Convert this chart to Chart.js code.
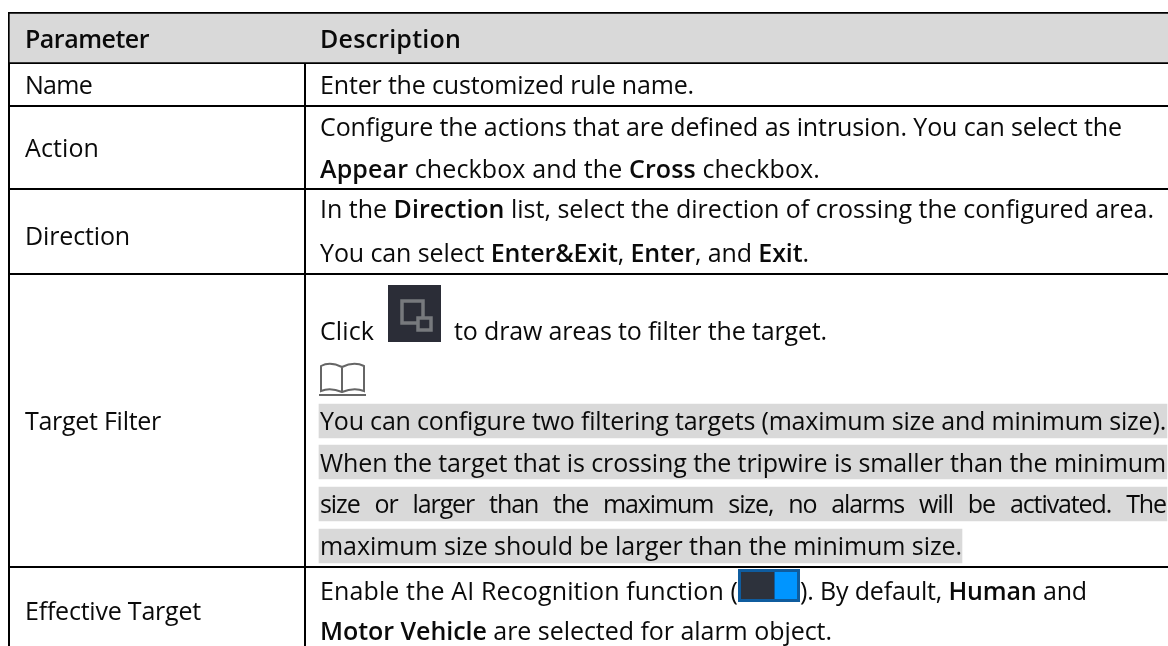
<!DOCTYPE html>
<html lang="en">
<head>
<meta charset="UTF-8">
<title>Parameter table</title>
<script src="https://cdn.jsdelivr.net/npm/chart.js"></script>
<style>
    html, body { margin: 0; padding: 0; background: #fff; }
    canvas { display: block; }
</style>
</head>
<body>
<canvas id="tableChart" width="1168" height="646"></canvas>
<script>
// table rules, in page px
const columnLines = [9, 305];
const rowLines = [13, 63, 106, 189, 274, 567];

// grey bands
const headerBandCenter = [38];
const headerBandStart = [10];
const headerBandEnd = [1168];
const noteBandCenter = [421, 462, 504, 546];
const noteBandStart = [319, 319, 319, 319];
const noteBandEnd = [1167, 1167, 1167, 962];

// left column: text, baseline, right end
const parameterLabels = ["Name", "Action", "Direction", "Target Filter", "Effective Target"];
const parameterBaselines = [94, 157, 245, 430, 620];
const parameterEnds = [92, 99, 130, 161, 201];

// right column lines, ** marks bold
const descriptionLines = [
    "Enter the customized rule name.",
    "Configure the actions that are defined as intrusion. You can select the",
    "**Appear** checkbox and the **Cross** checkbox.",
    "In the **Direction** list, select the direction of crossing the configured area.",
    "You can select **Enter&Exit**, **Enter**, and **Exit**.",
    "You can configure two filtering targets (maximum size and minimum size).",
    "When the target that is crossing the tripwire is smaller than the minimum",
    "size or larger than the maximum size, no alarms will be activated. The",
    "maximum size should be larger than the minimum size.",
    "**Motor Vehicle** are selected for alarm object."
];
const descriptionBaselines = [94, 136, 178, 218, 262, 430, 472, 513, 555, 640];
const descriptionEnds = [694, 1122, 820, 1154, 809, 1166, 1166, 1166, 962, 832];
const justifiedLines = [false, false, false, false, false, false, false, true, false, false];

const FONT = '"Open Sans", sans-serif';
const FONT_SIZE = 25;

function parseRuns(line) {
    return line.split('**').map((text, i) => ({ text, bold: i % 2 === 1 })).filter(r => r.text);
}

function setFont(ctx, bold) {
    ctx.font = (bold ? '600 ' : '400 ') + FONT_SIZE + 'px ' + FONT;
}

function runsWidth(ctx, runs) {
    let w = 0;
    runs.forEach(r => { setFont(ctx, r.bold); w += ctx.measureText(r.text).width; });
    return w;
}

// draw one line squeezed to end at endX
function drawLine(ctx, line, x, y, endX, justified) {
    const runs = parseRuns(line);
    ctx.letterSpacing = '0px';
    ctx.wordSpacing = '0px';
    const chars = runs.reduce((n, r) => n + r.text.length, 0);
    const natural = runsWidth(ctx, runs);
    if (justified) {
        ctx.letterSpacing = '-1.1px';
        const spaces = (line.match(/ /g) || []).length;
        const base = natural - 1.1 * chars;
        ctx.wordSpacing = ((endX - x - base) / spaces).toFixed(3) + 'px';
    } else {
        ctx.letterSpacing = ((endX - x - natural) / chars).toFixed(3) + 'px';
    }
    let cx = x;
    runs.forEach(r => {
        setFont(ctx, r.bold);
        ctx.fillText(r.text, cx, y);
        cx += ctx.measureText(r.text).width;
    });
    ctx.letterSpacing = '0px';
    ctx.wordSpacing = '0px';
    return cx;
}

const tableText = {
    id: 'tableText',
    afterDatasetsDraw(chart) {
        const { ctx, scales: { x, y } } = chart;
        ctx.save();
        ctx.fillStyle = '#0a0a0a';
        ctx.textBaseline = 'alphabetic';

        drawLine(ctx, '**Parameter**', x.getPixelForValue(25), y.getPixelForValue(48), 149);
        drawLine(ctx, '**Description**', x.getPixelForValue(320), y.getPixelForValue(48), 461);

        parameterLabels.forEach((label, i) => {
            drawLine(ctx, label, x.getPixelForValue(25), y.getPixelForValue(parameterBaselines[i]), parameterEnds[i]);
        });
        descriptionLines.forEach((line, i) => {
            drawLine(ctx, line, x.getPixelForValue(320), y.getPixelForValue(descriptionBaselines[i]), descriptionEnds[i], justifiedLines[i]);
        });

        // lines with inline icons
        drawLine(ctx, 'Click', 320, 340, 374);
        drawLine(ctx, 'to draw areas to filter the target.', 454, 340, 827);
        drawLine(ctx, 'Enable the AI Recognition function (', 320, 600, 738);
        drawLine(ctx, '). By default, **Human** and', 800, 600, 1087);

        // filter icon
        ctx.fillStyle = '#2b2d37';
        ctx.fillRect(388, 285, 53, 57);
        ctx.strokeStyle = '#77797d';
        ctx.lineWidth = 3.5;
        ctx.strokeRect(402, 301, 21, 22);
        ctx.fillStyle = '#2b2d37';
        ctx.fillRect(418, 318, 13, 12);
        ctx.strokeRect(418, 318, 13, 12);

        // note icon (open book)
        ctx.strokeStyle = '#666';
        ctx.lineWidth = 2;
        ctx.beginPath();
        ctx.moveTo(342, 367);
        ctx.quadraticCurveTo(330, 361, 321, 366);
        ctx.lineTo(321, 391);
        ctx.quadraticCurveTo(330, 387, 342, 392);
        ctx.quadraticCurveTo(354, 387, 364, 391);
        ctx.lineTo(364, 366);
        ctx.quadraticCurveTo(354, 361, 342, 367);
        ctx.lineTo(342, 392);
        ctx.moveTo(319, 395);
        ctx.lineTo(366, 395);
        ctx.stroke();

        // toggle icon
        ctx.fillStyle = '#0f5c9e';
        ctx.fillRect(738, 569, 62, 33);
        ctx.fillStyle = '#2d323c';
        ctx.fillRect(741, 572, 33, 27);
        ctx.fillStyle = '#0095ff';
        ctx.fillRect(775, 572, 22, 27);
        ctx.restore();
    }
};

new Chart(document.getElementById('tableChart'), {
    type: 'bar',
    data: {
        datasets: [
            {
                label: 'Header',
                data: headerBandCenter.map((c, i) => ({ y: c, x: [headerBandStart[i], headerBandEnd[i]] })),
                backgroundColor: '#d9d9d9',
                barThickness: 48
            },
            {
                label: 'Note',
                data: noteBandCenter.map((c, i) => ({ y: c, x: [noteBandStart[i], noteBandEnd[i]] })),
                backgroundColor: '#d9d9d9',
                barThickness: 34
            }
        ]
    },
    plugins: [tableText],
    options: {
        indexAxis: 'y',
        responsive: false,
        animation: false,
        grouped: false,
        layout: { padding: { left: 8, top: 12, right: 0, bottom: 0 } },
        scales: {
            x: {
                type: 'linear', min: 8, max: 1168,
                afterBuildTicks: s => { s.ticks = columnLines.map(value => ({ value })); },
                ticks: { display: false, autoSkip: false },
                grid: { color: '#000', lineWidth: 2, drawTicks: false },
                border: { display: false }
            },
            y: {
                type: 'linear', reverse: true, min: 12, max: 646, offset: false,
                afterBuildTicks: s => { s.ticks = rowLines.map(value => ({ value })); },
                ticks: { display: false, autoSkip: false },
                grid: { color: '#000', lineWidth: 2, drawTicks: false, offset: false },
                border: { display: false }
            }
        },
        plugins: { legend: { display: false }, tooltip: { enabled: false } }
    }
});
</script>
</body>
</html>
